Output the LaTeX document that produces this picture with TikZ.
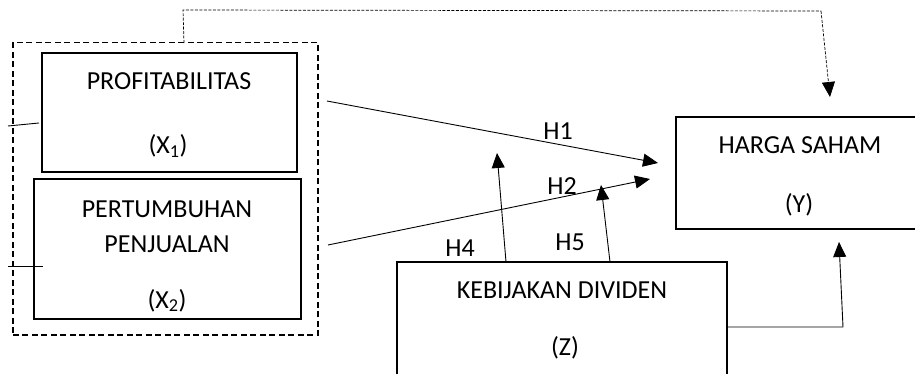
\documentclass[tikz,border=0pt]{standalone}
\usepackage{fontspec}
\setmainfont{Carlito}
\usetikzlibrary{arrows.meta}
\begin{document}
\begin{tikzpicture}[x=1pt,y=-1pt,
  box/.style={draw,line width=1.8pt,rectangle,inner sep=0pt},
  grp/.style={draw,line width=1.5pt,dash pattern=on 6pt off 3.5pt,rectangle,inner sep=0pt},
  lbl/.style={anchor=base,inner sep=0pt,font=\fontsize{26}{31}\selectfont},
  arr/.style={line width=0.9pt,-{Triangle[length=15pt,width=13pt]}},
  ln/.style={line width=0.9pt},
  dsh/.style={line width=0.7pt,dash pattern=on 3pt off 1.5pt}]
\useasboundingbox (0,0) rectangle (915,374);
% boxes
\node[grp,minimum width=305.3pt,minimum height=292.3pt] (grp) at (165.4,188.9) {};
\node[box,minimum width=255pt,minimum height=118.4pt] (x1) at (169.2,112.5) {};
\node[box,minimum width=266.7pt,minimum height=140.3pt] (x2) at (167.7,249.2) {};
\node[box,minimum width=241pt,minimum height=112pt] (y) at (796.5,172.7) {};
\node[box,minimum width=330pt,minimum height=128pt] (z) at (562,326) {};
% texts
\node[lbl] (t1) at (169,90) {PROFITABILITAS};
\node[lbl] (t1b) at (168,154) {(X\textsubscript{1})};
\node[lbl] (t2) at (167,217) {PERTUMBUHAN};
\node[lbl] (t2b) at (167,252) {PENJUALAN};
\node[lbl] (t2c) at (167,308) {(X\textsubscript{2})};
\node[lbl] (ty) at (800,154) {HARGA SAHAM};
\node[lbl] (tyb) at (799,212) {(Y)};
\node[lbl] (tz) at (562,298) {KEBIJAKAN DIVIDEN};
\node[lbl] (tzb) at (565,355) {(Z)};
% coordinates
\coordinate (h1s) at (327,101);
\coordinate (h1e) at (658,163);
\coordinate (h2s) at (328,245);
\coordinate (h2e) at (650,179);
\coordinate (h4s) at (506,262);
\coordinate (h4e) at (497,153);
\coordinate (h5s) at (610,262);
\coordinate (h5e) at (601,185);
\coordinate (zs) at (727,327);
\coordinate (zc) at (843,327);
\coordinate (ze) at (839,242);
\coordinate (d0) at (184,43);
\coordinate (d1) at (183,10);
\coordinate (d2) at (821,11);
\coordinate (d3) at (830,97);
\coordinate (s1a) at (8,126);
\coordinate (s1b) at (39,123);
\coordinate (s2a) at (8,266);
\coordinate (s2b) at (43,266);
% connectors
\draw[arr] (h1s) -- (h1e);
\draw[arr] (h2s) -- (h2e);
\draw[arr] (h4s) -- (h4e);
\draw[arr] (h5s) -- (h5e);
\draw[arr] (zs) -- (zc) -- (ze);
\draw[dsh] (d0) -- (d1) -- (d2);
\draw[dsh,-{Triangle[length=15pt,width=13pt]}] (d2) -- (d3);
\draw[ln] (s1a) -- (s1b);
\draw[ln] (s2a) -- (s2b);
% labels
\node[lbl] (l1) at (558,140) {H1};
\node[lbl] (l2) at (562,195) {H2};
\node[lbl] (l4) at (460,256) {H4};
\node[lbl] (l5) at (570,250) {H5};
\end{tikzpicture}
\end{document}
